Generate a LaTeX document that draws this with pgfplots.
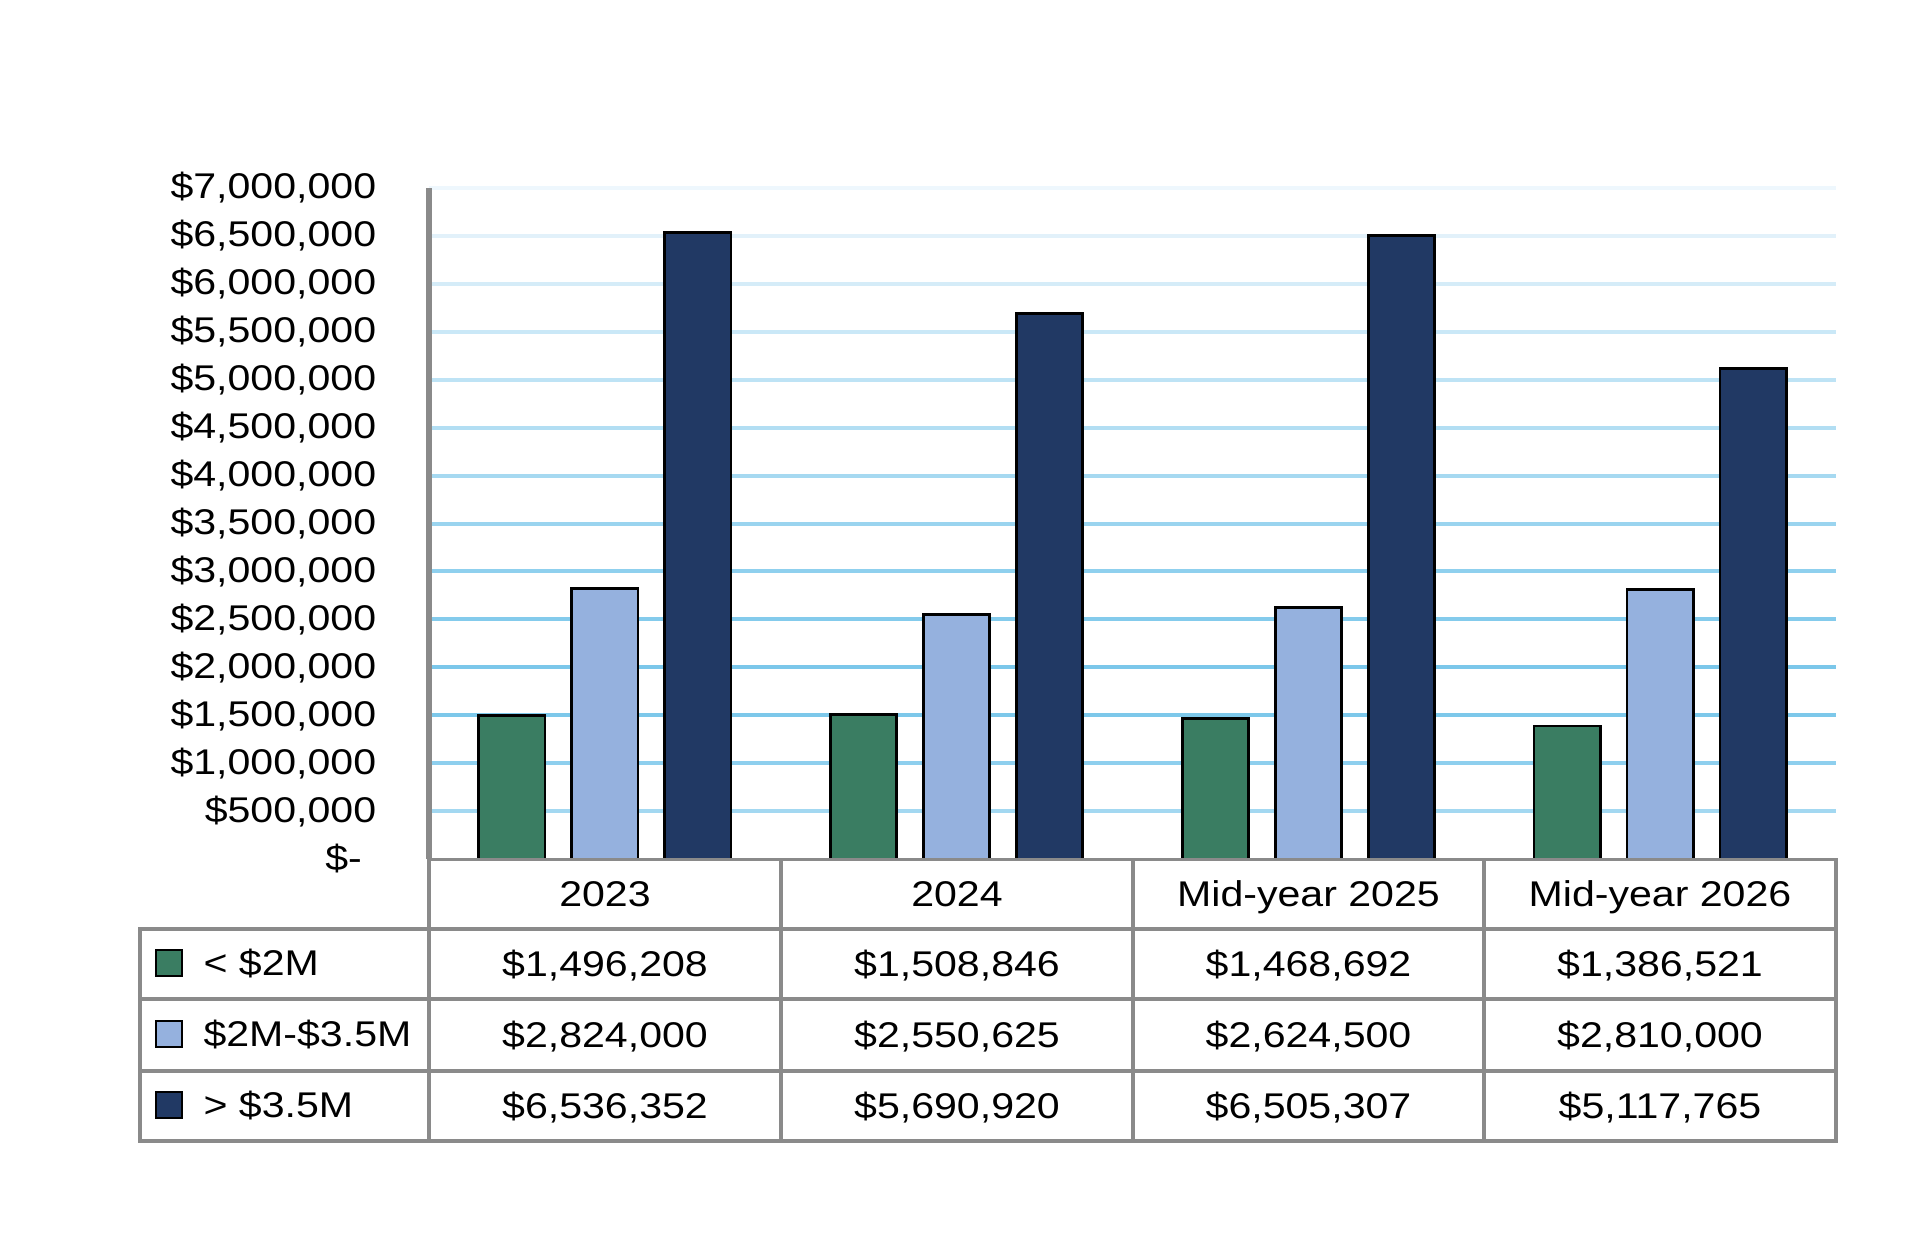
\documentclass[border=0pt]{standalone}
\usepackage{fontspec}
\setmainfont{Liberation Sans}[FakeStretch=1.15]
\usepackage{pgfplots}
\pgfplotsset{compat=1.18}
\definecolor{cA}{HTML}{3A7D62}
\definecolor{cB}{HTML}{95B1DE}
\definecolor{cC}{HTML}{213964}
\definecolor{tl}{HTML}{8A8A8A}
\definecolor{g70}{HTML}{EEF7FD}
\definecolor{g65}{HTML}{E2F1FA}
\definecolor{g60}{HTML}{D5ECF8}
\definecolor{g55}{HTML}{CAE8F7}
\definecolor{g50}{HTML}{BEE3F5}
\definecolor{g45}{HTML}{B2DEF3}
\definecolor{g40}{HTML}{A6D9F1}
\definecolor{g35}{HTML}{9AD4EF}
\definecolor{g30}{HTML}{8FD0EE}
\definecolor{g25}{HTML}{84CBEC}
\definecolor{g20}{HTML}{7BC7EA}
\definecolor{g15}{HTML}{7DC8EA}
\definecolor{g10}{HTML}{8ECFEE}
\definecolor{g05}{HTML}{A3D8F1}
\begin{document}
\fontsize{13.4}{16}\selectfont
\begin{tikzpicture}
\useasboundingbox (0,0) rectangle (718.5pt,-463.875pt);
\begin{axis}[
  at={(160.875pt,-322.125pt)}, anchor=south west,
  scale only axis, width=527.625pt, height=251.625pt,
  xmin=-0.5, xmax=3.5, ymin=0, ymax=7000000,
  xtick=\empty,
  ytick={0,500000,1000000,1500000,2000000,2500000,3000000,3500000,4000000,4500000,5000000,5500000,6000000,6500000,7000000},
  yticklabels={{\$-\rule{5.4pt}{0pt}},{\$500,000},{\$1,000,000},{\$1,500,000},{\$2,000,000},{\$2,500,000},{\$3,000,000},{\$3,500,000},{\$4,000,000},{\$4,500,000},{\$5,000,000},{\$5,500,000},{\$6,000,000},{\$6,500,000},{\$7,000,000}},
  scaled y ticks=false,
  major tick length=0pt,
  axis line style={draw=none},
  yticklabel style={anchor=east, inner sep=0pt, xshift=-19.6pt, font=\fontsize{13.4}{16}\selectfont},
  clip=false,
]
\draw[g70, line width=1.5pt] (axis cs:-0.5,7000000) -- (axis cs:3.5,7000000);
\draw[g65, line width=1.5pt] (axis cs:-0.5,6500000) -- (axis cs:3.5,6500000);
\draw[g60, line width=1.5pt] (axis cs:-0.5,6000000) -- (axis cs:3.5,6000000);
\draw[g55, line width=1.5pt] (axis cs:-0.5,5500000) -- (axis cs:3.5,5500000);
\draw[g50, line width=1.5pt] (axis cs:-0.5,5000000) -- (axis cs:3.5,5000000);
\draw[g45, line width=1.5pt] (axis cs:-0.5,4500000) -- (axis cs:3.5,4500000);
\draw[g40, line width=1.5pt] (axis cs:-0.5,4000000) -- (axis cs:3.5,4000000);
\draw[g35, line width=1.5pt] (axis cs:-0.5,3500000) -- (axis cs:3.5,3500000);
\draw[g30, line width=1.5pt] (axis cs:-0.5,3000000) -- (axis cs:3.5,3000000);
\draw[g25, line width=1.5pt] (axis cs:-0.5,2500000) -- (axis cs:3.5,2500000);
\draw[g20, line width=1.5pt] (axis cs:-0.5,2000000) -- (axis cs:3.5,2000000);
\draw[g15, line width=1.5pt] (axis cs:-0.5,1500000) -- (axis cs:3.5,1500000);
\draw[g10, line width=1.5pt] (axis cs:-0.5,1000000) -- (axis cs:3.5,1000000);
\draw[g05, line width=1.5pt] (axis cs:-0.5,500000) -- (axis cs:3.5,500000);
\addplot[ybar, bar width=0.188, bar shift=-0.2644, fill=cA, draw=black, line width=1.05pt]
  coordinates {(0,1496208) (1,1508846) (2,1468692) (3,1386521)};
\addplot[ybar, bar width=0.188, bar shift=0, fill=cB, draw=black, line width=1.05pt]
  coordinates {(0,2824000) (1,2550625) (2,2624500) (3,2810000)};
\addplot[ybar, bar width=0.188, bar shift=0.2644, fill=cC, draw=black, line width=1.05pt]
  coordinates {(0,6536352) (1,5690920) (2,6505307) (3,5117765)};
\draw[tl, line width=1.9pt] (rel axis cs:0,0) -- (rel axis cs:0,1);
\end{axis}
\begin{scope}[x=0.375pt, y=-0.375pt]
  \draw[tl, line width=1.3pt, line cap=rect] (429,859.5) -- (1836,859.5);
  \foreach \yy in {929,999,1071,1141}
    \draw[tl, line width=1.3pt, line cap=rect] (140,\yy) -- (1836,\yy);
  \foreach \xx in {429,781,1133,1484,1836}
    \draw[tl, line width=1.3pt, line cap=rect] (\xx,859.5) -- (\xx,1141);
  \draw[tl, line width=1.3pt, line cap=rect] (140,929) -- (140,1141);
  % header
  \node[anchor=base, inner sep=0pt] at (605,906) {2023};
  \node[anchor=base, inner sep=0pt] at (957,906) {2024};
  \node[anchor=base, inner sep=0pt] at (1308.5,906) {Mid-year 2025};
  \node[anchor=base, inner sep=0pt] at (1660,906) {Mid-year 2026};
  % legend cells
  \draw[fill=cA, line width=0.8pt] (156,950) rectangle (182,976);
  \draw[fill=cB, line width=0.8pt] (156,1021) rectangle (182,1047);
  \draw[fill=cC, line width=0.8pt] (156,1092) rectangle (182,1118);
  \node[anchor=base west, inner sep=0pt] at (203,975) {< \$2M};
  \node[anchor=base west, inner sep=0pt] at (203,1046.5) {\$2M-\$3.5M};
  \node[anchor=base west, inner sep=0pt] at (203,1117.5) {> \$3.5M};
  % values
  \node[anchor=base, inner sep=0pt] at (605,976) {\$1,496,208};
  \node[anchor=base, inner sep=0pt] at (957,976) {\$1,508,846};
  \node[anchor=base, inner sep=0pt] at (1308.5,976) {\$1,468,692};
  \node[anchor=base, inner sep=0pt] at (1660,976) {\$1,386,521};
  \node[anchor=base, inner sep=0pt] at (605,1047) {\$2,824,000};
  \node[anchor=base, inner sep=0pt] at (957,1047) {\$2,550,625};
  \node[anchor=base, inner sep=0pt] at (1308.5,1047) {\$2,624,500};
  \node[anchor=base, inner sep=0pt] at (1660,1047) {\$2,810,000};
  \node[anchor=base, inner sep=0pt] at (605,1118) {\$6,536,352};
  \node[anchor=base, inner sep=0pt] at (957,1118) {\$5,690,920};
  \node[anchor=base, inner sep=0pt] at (1308.5,1118) {\$6,505,307};
  \node[anchor=base, inner sep=0pt] at (1660,1118) {\$5,117,765};
\end{scope}
\end{tikzpicture}
\end{document}
